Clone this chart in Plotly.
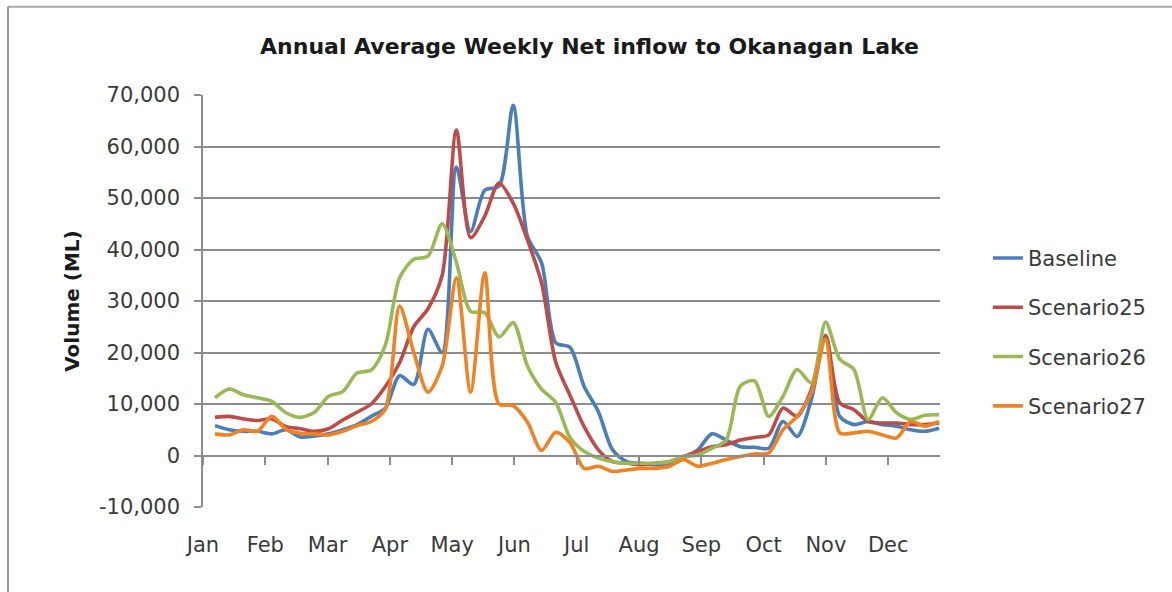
import plotly.graph_objects as go

# weekly net inflow (ML)
weeks = list(range(1, 53))
months = ["Jan", "Feb", "Mar", "Apr", "May", "Jun", "Jul", "Aug", "Sep", "Oct", "Nov", "Dec"]
y_ticks = [-10000, 0, 10000, 20000, 30000, 40000, 50000, 60000, 70000]
y_labels = ["-10,000", "0", "10,000", "20,000", "30,000", "40,000", "50,000", "60,000", "70,000"]

baseline = [5800, 5000, 4700, 4700, 4200, 5000, 3600, 3800, 4200, 5000,
            6000, 7600, 9200, 15500, 13800, 24500, 20000, 56000, 43500, 51500,
            52300, 68000, 42600, 37400, 21900, 21000, 13400, 8500, 1100, -1200,
            -1500, -1800, -1500, -500, 1100, 4200, 3000, 1700, 1600, 1400,
            6600, 3700, 10900, 23300, 7600, 6000, 6600, 6000, 5700, 5000,
            4700, 5300]
scenario25 = [7400, 7600, 7100, 6800, 7100, 5600, 5200, 4700, 5200, 6900,
              8400, 10000, 13400, 18000, 25000, 28500, 35000, 63200, 42300, 46500,
              52900, 49000, 41900, 33500, 18100, 11700, 5600, 1100, -1200, -1500,
              -1800, -1500, -1200, -200, 800, 1700, 2100, 3000, 3500, 4000,
              9200, 7600, 12800, 23300, 10200, 8900, 6600, 6300, 6300, 6000,
              6000, 6300]
scenario26 = [11200, 12900, 11800, 11200, 10500, 8300, 7400, 8400, 11500, 12400,
              16000, 16600, 21500, 34500, 38100, 38700, 45000, 37500, 28000, 27700,
              23000, 25800, 17400, 12900, 10300, 3500, 800, -500, -1200, -1500,
              -1500, -1500, -1200, -200, 100, 1400, 3000, 13500, 14500, 7600,
              11500, 16700, 14100, 25900, 18700, 16700, 7000, 11200, 8300, 7000,
              7800, 7900]
scenario27 = [4200, 4000, 5000, 4700, 7600, 5100, 4300, 4200, 4000, 4700,
              5800, 6600, 9000, 29000, 20000, 12300, 17400, 34500, 12300, 35500,
              10000, 9700, 6500, 1000, 4500, 2500, -2500, -2100, -3100, -2800,
              -2500, -2500, -2100, -800, -2100, -1500, -800, -200, 300, 500,
              5000, 7600, 12200, 22600, 4400, 4400, 4700, 4000, 3400, 6600,
              5700, 6600]

series = [("Baseline", baseline, "#4A7EBB"),
          ("Scenario25", scenario25, "#BE4B48"),
          ("Scenario26", scenario26, "#98B954"),
          ("Scenario27", scenario27, "#F08224")]

FONT = "DejaVu Sans"
x_range = [0.155, 52.06]
month_pos = [0.155 + k * 4.387 for k in range(12)]

fig = go.Figure()
for name, vals, col in series:
    fig.add_trace(go.Scatter(x=weeks, y=vals, name=name, mode="lines",
                             legendgroup=name,
                             line=dict(color=col, width=3.6, shape="spline", smoothing=0.8)))

# invisible trace so the tick axis at y=0 gets drawn
fig.add_trace(go.Scatter(x=weeks, y=baseline, xaxis="x2", mode="lines",
                         opacity=0, showlegend=False, hoverinfo="skip"))

fig.update_layout(
    width=1172, height=592,
    margin=dict(l=203, r=232, t=95, b=85),
    paper_bgcolor="white", plot_bgcolor="white",
    font=dict(family=FONT, size=21, color="#3a3a3a"),
    title=dict(text="Annual Average Weekly Net inflow to Okanagan Lake",
               x=0.503, xref="container", y=0.922, yref="container",
               xanchor="center", yanchor="middle",
               font=dict(family=FONT, size=22, color="#1a1a1a", weight="bold")),
    xaxis=dict(range=x_range, tickvals=month_pos, ticktext=months,
               showgrid=False, zeroline=False, showline=False,
               ticks="outside", ticklen=19, tickcolor="rgba(0,0,0,0)"),
    xaxis2=dict(range=x_range, overlaying="x", anchor="free", position=0.125,
                tickvals=month_pos, showticklabels=False, showgrid=False,
                zeroline=False, showline=True, linecolor="#8c8c8c", linewidth=1.5,
                ticks="outside", ticklen=9, tickcolor="#8c8c8c", tickwidth=1.5),
    yaxis=dict(range=[-10000, 70000], tickvals=y_ticks, ticktext=y_labels,
               showgrid=True, gridcolor="#8c8c8c", gridwidth=1.5, zeroline=False,
               showline=True, linecolor="#8c8c8c", linewidth=1.5,
               ticks="outside", ticklen=7, tickcolor="#8c8c8c", tickwidth=1.5,
               ticklabelstandoff=10),
    legend=dict(x=1.065, y=0.424, xanchor="left", yanchor="middle",
                font=dict(family=FONT, size=21, color="#3a3a3a"),
                tracegroupgap=19, bgcolor="rgba(0,0,0,0)"),
    annotations=[dict(text="<b>Volume (ML)</b>", textangle=-90,
                      xref="paper", yref="paper", x=-0.178, y=0.5,
                      xanchor="center", yanchor="middle", showarrow=False,
                      font=dict(family=FONT, size=20, color="#1a1a1a"))],
    shapes=[dict(type="line", xref="paper", yref="paper",
                 x0=-0.2646, x1=1.32, y0=1.214, y1=1.214,
                 line=dict(color="#a8a8a8", width=2)),
            dict(type="line", xref="paper", yref="paper",
                 x0=-0.2646, x1=-0.2646, y0=1.214, y1=-0.21,
                 line=dict(color="#9a9a9a", width=2))],
)

fig.write_html("out.html", config={"displayModeBar": False},
               post_script="document.body.style.margin='0px';")
